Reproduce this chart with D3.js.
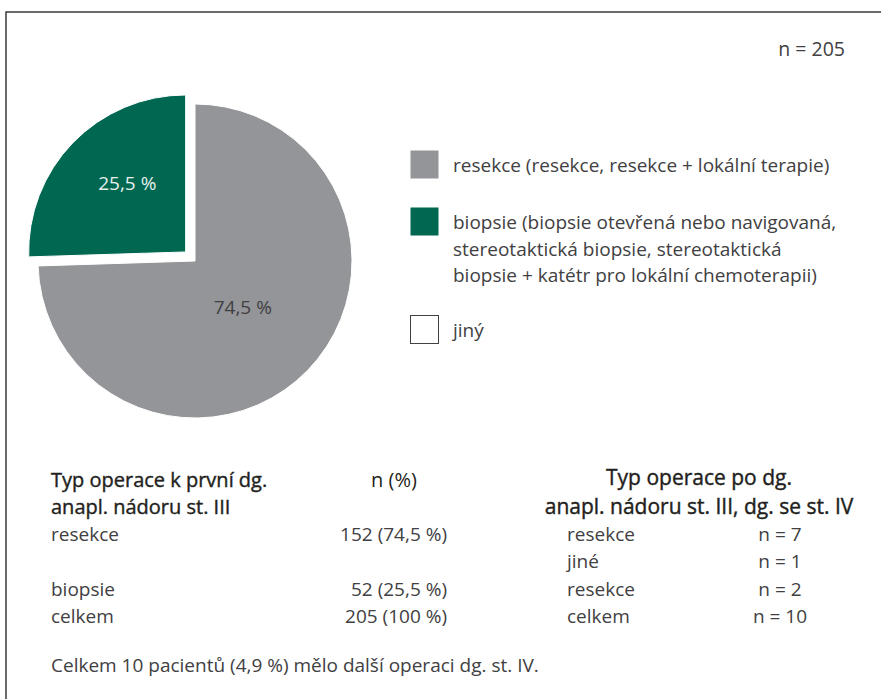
<!DOCTYPE html>
<html>
<head>
<meta charset="utf-8">
<script src="https://cdn.jsdelivr.net/npm/d3@7"></script>
<style>
  body { margin: 0; background: #fff; }
  svg text { font-family: "Open Sans", "DejaVu Sans", sans-serif; fill: #414042; font-size: 19px; }
</style>
</head>
<body>
<script>
// pie data (percent of 205 patients)
var categories = ["resekce", "biopsie"];
var percents = [74.5, 25.5];
var pieLabels = ["74,5 %", "25,5 %"];
var colors = ["#939598", "#006751"];

// legend
var legendItems = [
  ["resekce (resekce, resekce + lokální terapie)"],
  ["biopsie (biopsie otevřená nebo navigovaná,", "stereotaktická biopsie, stereotaktická", "biopsie + katétr pro lokální chemoterapii)"],
  ["jiný"]
];
var legendColors = ["#939598", "#006751", "#fff"];

// left table
var leftHeader = ["Typ operace k první dg.", "anapl. nádoru st. III"];
var leftRows = ["resekce", "", "biopsie", "celkem"];
var leftValues = ["152 (74,5 %)", "", "52 (25,5 %)", "205 (100 %)"];

// right table
var rightHeader = ["Typ operace po dg.", "anapl. nádoru st. III, dg. se st. IV"];
var rightRows = ["resekce", "jiné", "resekce", "celkem"];
var rightValues = ["n = 7", "n = 1", "n = 2", "n = 10"];

var footnote = "Celkem 10 pacientů (4,9 %) mělo další operaci dg. st. IV.";
var nTotal = "n = 205";

var W = 881, H = 699;
var svg = d3.select("body").append("svg").attr("width", W).attr("height", H);

// frame
svg.append("rect")
  .attr("x", 6).attr("y", 12).attr("width", 900).attr("height", 720)
  .attr("fill", "none").attr("stroke", "#3a3a3a").attr("stroke-width", 1.5);

svg.append("text").attr("x", 845).attr("y", 56).attr("text-anchor", "end")
  .style("font-size", "19.5px").text(nTotal);

// pie
var R = 157;
var pieG = svg.append("g").attr("transform", "translate(195,261)");
var pie = d3.pie().sort(null).value(function (d) { return d; });
var arc = d3.arc().innerRadius(0).outerRadius(R);
var arcs = pie(percents);
var explode = [0, 13];

var slice = pieG.selectAll("g.slice").data(arcs).enter().append("g")
  .attr("class", "slice")
  .attr("transform", function (d, i) {
    var a = (d.startAngle + d.endAngle) / 2;
    return "translate(" + (Math.sin(a) * explode[i]) + "," + (-Math.cos(a) * explode[i]) + ")";
  });
slice.append("path").attr("d", arc)
  .attr("fill", function (d, i) { return colors[i]; })
  .attr("stroke", "#fff").attr("stroke-width", 1);

// label radius + small nudge so it sits like the original
var labelR = [0.424, 0.58];
var labelNudge = [[0, 0], [7, -5]];
slice.append("text")
  .attr("transform", function (d, i) {
    var a = (d.startAngle + d.endAngle) / 2;
    var x = Math.sin(a) * R * labelR[i] + labelNudge[i][0];
    var y = -Math.cos(a) * R * labelR[i] + labelNudge[i][1];
    return "translate(" + x + "," + y + ")";
  })
  .attr("text-anchor", "middle").attr("dy", "0.35em")
  .style("fill", function (d, i) { return i === 1 ? "#e6f0ec" : "#414042"; })
  .text(function (d, i) { return pieLabels[i]; });

// legend
var legendY = [150, 207, 315];
var lg = svg.append("g");
legendItems.forEach(function (lines, i) {
  lg.append("rect").attr("x", 410.5).attr("y", legendY[i] + 0.5).attr("width", 28).attr("height", 28)
    .attr("fill", legendColors[i])
    .attr("stroke", i === 2 ? "#414042" : "none").attr("stroke-width", 1);
  lines.forEach(function (t, j) {
    lg.append("text").attr("x", 453).attr("y", legendY[i] + 22 + j * 26.5).text(t);
  });
});

// left table
var rowY = [541, 568, 596, 623];
var headerY = [487, 514];
var tl = svg.append("g");
leftHeader.forEach(function (t, i) {
  tl.append("text").attr("x", 51).attr("y", headerY[i])
    .style("font-size", "20px").style("font-weight", 500).style("fill", "#231f20")
    .style("stroke", "#231f20").style("stroke-width", 0.4).text(t);
});
tl.append("text").attr("x", 394).attr("y", headerY[0]).attr("text-anchor", "middle")
  .style("font-size", "20px").style("fill", "#231f20").text("n (%)");
leftRows.forEach(function (t, i) {
  tl.append("text").attr("x", 51).attr("y", rowY[i]).text(t);
  tl.append("text").attr("x", 447).attr("y", rowY[i]).attr("text-anchor", "end").text(leftValues[i]);
});

// right table
var rightHeaderY = [485, 514];
var tr = svg.append("g");
rightHeader.forEach(function (t, i) {
  tr.append("text").attr("x", 699).attr("y", rightHeaderY[i]).attr("text-anchor", "middle")
    .style("font-size", "21px").style("font-weight", 500).style("fill", "#231f20")
    .style("stroke", "#231f20").style("stroke-width", 0.4).text(t);
});
rightRows.forEach(function (t, i) {
  tr.append("text").attr("x", 567).attr("y", rowY[i]).text(t);
  tr.append("text").attr("x", 780).attr("y", rowY[i]).attr("text-anchor", "middle").text(rightValues[i]);
});

svg.append("text").attr("x", 51).attr("y", 672).text(footnote);
</script>
</body>
</html>
